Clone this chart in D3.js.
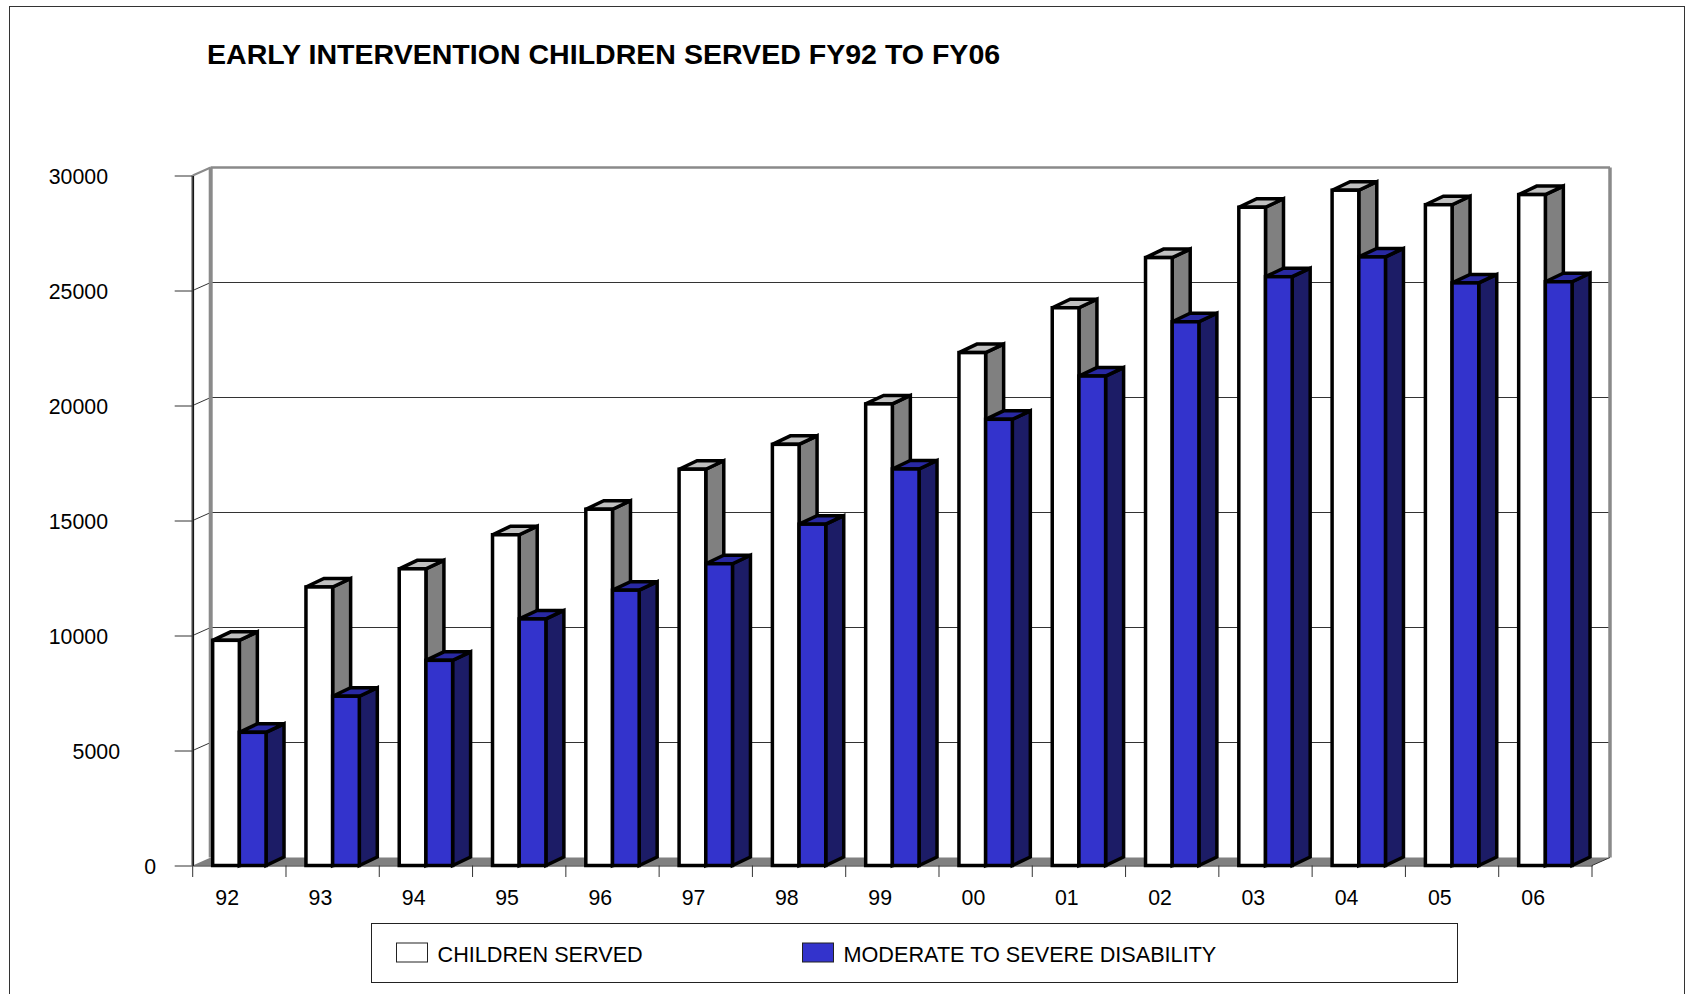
<!DOCTYPE html>
<html>
<head>
<meta charset="utf-8">
<script src="https://cdn.jsdelivr.net/npm/d3@7"></script>
<style>
  body { margin: 0; background: #fff; }
  text { font-family: "Liberation Sans", Arial, sans-serif; fill: #000; }
</style>
</head>
<body>
<div id="chart"></div>
<script>
const years = ["92","93","94","95","96","97","98","99","00","01","02","03","04","05","06"];
const childrenServed = [9790,12110,12900,14380,15490,17230,18310,20070,22300,24250,26430,28620,29360,28730,29170];
const moderateSevere = [5790,7360,8920,10720,11970,13120,14840,17240,19400,21280,23640,25600,26460,25330,25380];
const yTicks = [0,5000,10000,15000,20000,25000,30000];
const seriesNames = ["CHILDREN SERVED","MODERATE TO SEVERE DISABILITY"];

const width = 1686, height = 994;
const plotLeft = 192.7, plotRight = 1592, plotTop = 175.5, plotBottom = 865.5;
const wallDx = 18, wallDy = -8;       // depth of the chart box
const barDx = 18, barDy = -8.5;       // depth of one bar

const svg = d3.select("#chart").append("svg")
  .attr("width", width)
  .attr("height", height)
  .style("display", "block");

// outer frame, runs off the bottom of the page
svg.append("rect")
  .attr("x", 9.5).attr("y", 6.5)
  .attr("width", 1675).attr("height", 1100)
  .attr("fill", "none").attr("stroke", "#333").attr("stroke-width", 1);

svg.append("text")
  .attr("x", 207).attr("y", 64)
  .style("font-size", "28.55px").style("font-weight", "bold")
  .text("EARLY INTERVENTION CHILDREN SERVED FY92 TO FY06");

const x = d3.scaleBand().domain(years).range([plotLeft, plotRight]).paddingInner(0.428).paddingOuter(0.214);
const xSub = d3.scaleBand().domain([0, 1]).range([0, x.bandwidth()]);
const y = d3.scaleLinear().domain([0, 30000]).range([plotBottom, plotTop]);

// floor
svg.append("path")
  .attr("d", `M${plotLeft},${plotBottom}L${plotRight},${plotBottom}L${plotRight + wallDx},${plotBottom + wallDy}L${plotLeft + wallDx},${plotBottom + wallDy}Z`)
  .attr("fill", "#808080");

// gridlines on side wall and back wall
const grid = svg.append("g");
yTicks.filter(d => d > 0 && d < 30000).forEach(d => {
  grid.append("path")
    .attr("d", `M${plotLeft},${y(d)}L${plotLeft + wallDx},${y(d) + wallDy}L${plotRight + wallDx},${y(d) + wallDy}`)
    .attr("fill", "none").attr("stroke", "#333").attr("stroke-width", 1);
});

// back wall outline
const wall = svg.append("g").attr("fill", "none").attr("stroke", "#8a8a8a");
wall.append("path")
  .attr("d", `M${plotLeft + wallDx},${plotBottom + wallDy}V${plotTop + wallDy}`)
  .attr("stroke-width", 4);
wall.append("path")
  .attr("d", `M${plotLeft + wallDx},${plotTop + wallDy}H${plotRight + wallDx}`)
  .attr("stroke-width", 2.5);
wall.append("path")
  .attr("d", `M${plotRight + wallDx},${plotTop + wallDy}V${plotBottom + wallDy}`)
  .attr("stroke-width", 3.5);
wall.append("path")
  .attr("d", `M${plotLeft},${plotTop}L${plotLeft + wallDx},${plotTop + wallDy}`)
  .attr("stroke-width", 2);
wall.append("path")
  .attr("d", `M${plotLeft},${plotTop}V${plotBottom}`)
  .attr("stroke-width", 3);
svg.append("path")
  .attr("d", `M${plotRight},${plotBottom}L${plotRight + wallDx},${plotBottom + wallDy}`)
  .attr("fill", "none").attr("stroke", "#333").attr("stroke-width", 1);

// axes
const labelRight = { 5: 108, 4: 120, 1: 156 };
const yAxis = svg.append("g")
  .attr("transform", `translate(${plotLeft},0)`)
  .call(d3.axisLeft(y).tickValues(yTicks).tickSize(18).tickSizeOuter(0).tickFormat(d => String(d)));
yAxis.select(".domain").attr("stroke", "#111").attr("stroke-width", 1.5);
yAxis.selectAll(".tick line").attr("stroke", "#333");
yAxis.selectAll(".tick text")
  .style("font-size", "21.3px")
  .attr("x", d => labelRight[String(d).length] - plotLeft)
  .attr("dy", "0.36em");

const xAxis = svg.append("g")
  .attr("transform", `translate(0,${plotBottom})`)
  .call(d3.axisBottom(x).tickSize(0));
xAxis.select(".domain").attr("stroke", "#222").attr("stroke-width", 1);
xAxis.selectAll(".tick text")
  .style("font-size", "21.3px")
  .attr("dx", -12.2)
  .attr("y", 0)
  .attr("dy", 39.5);

// tick marks sit between the groups
const step = x.step();
d3.range(years.length + 1).forEach(i => {
  svg.append("line")
    .attr("x1", plotLeft + i * step).attr("x2", plotLeft + i * step)
    .attr("y1", plotBottom).attr("y2", plotBottom + 11.5)
    .attr("stroke", "#333").attr("stroke-width", 1);
});

// bars
const palette = [
  { front: "#ffffff", side: "#808080", top: "#c0c0c0" },
  { front: "#3333cc", side: "#1c1c66", top: "#2929a3" }
];

function drawBar(g, bx, bw, by, c) {
  const opts = s => s.attr("stroke", "#000").attr("stroke-width", 3.5);
  g.append("path")
    .attr("d", `M${bx + bw},${by}L${bx + bw + barDx},${by + barDy}V${plotBottom + barDy}L${bx + bw},${plotBottom}Z`)
    .attr("fill", c.side).call(opts);
  g.append("path")
    .attr("d", `M${bx},${by}L${bx + barDx},${by + barDy}H${bx + bw + barDx}L${bx + bw},${by}Z`)
    .attr("fill", c.top).call(opts);
  g.append("rect")
    .attr("x", bx).attr("y", by)
    .attr("width", bw).attr("height", plotBottom - by)
    .attr("fill", c.front).call(opts);
}

const groups = svg.append("g").selectAll("g")
  .data(years)
  .join("g");

groups.each(function (d, i) {
  const g = d3.select(this);
  drawBar(g, x(d) + xSub(0), xSub.bandwidth(), y(childrenServed[i]), palette[0]);
  drawBar(g, x(d) + xSub(1), xSub.bandwidth(), y(moderateSevere[i]), palette[1]);
});

// legend
const legend = svg.append("g");
legend.append("rect")
  .attr("x", 371.5).attr("y", 923.5)
  .attr("width", 1086).attr("height", 59)
  .attr("fill", "#fff").attr("stroke", "#222").attr("stroke-width", 1);
[396.5, 802.5].forEach((lx, i) => {
  legend.append("rect")
    .attr("x", lx).attr("y", 943)
    .attr("width", 31).attr("height", 19)
    .attr("fill", palette[i].front).attr("stroke", "#222").attr("stroke-width", 1);
  legend.append("text")
    .attr("x", lx + 41).attr("y", 962)
    .style("font-size", "21.65px")
    .text(seriesNames[i]);
});
</script>
</body>
</html>
